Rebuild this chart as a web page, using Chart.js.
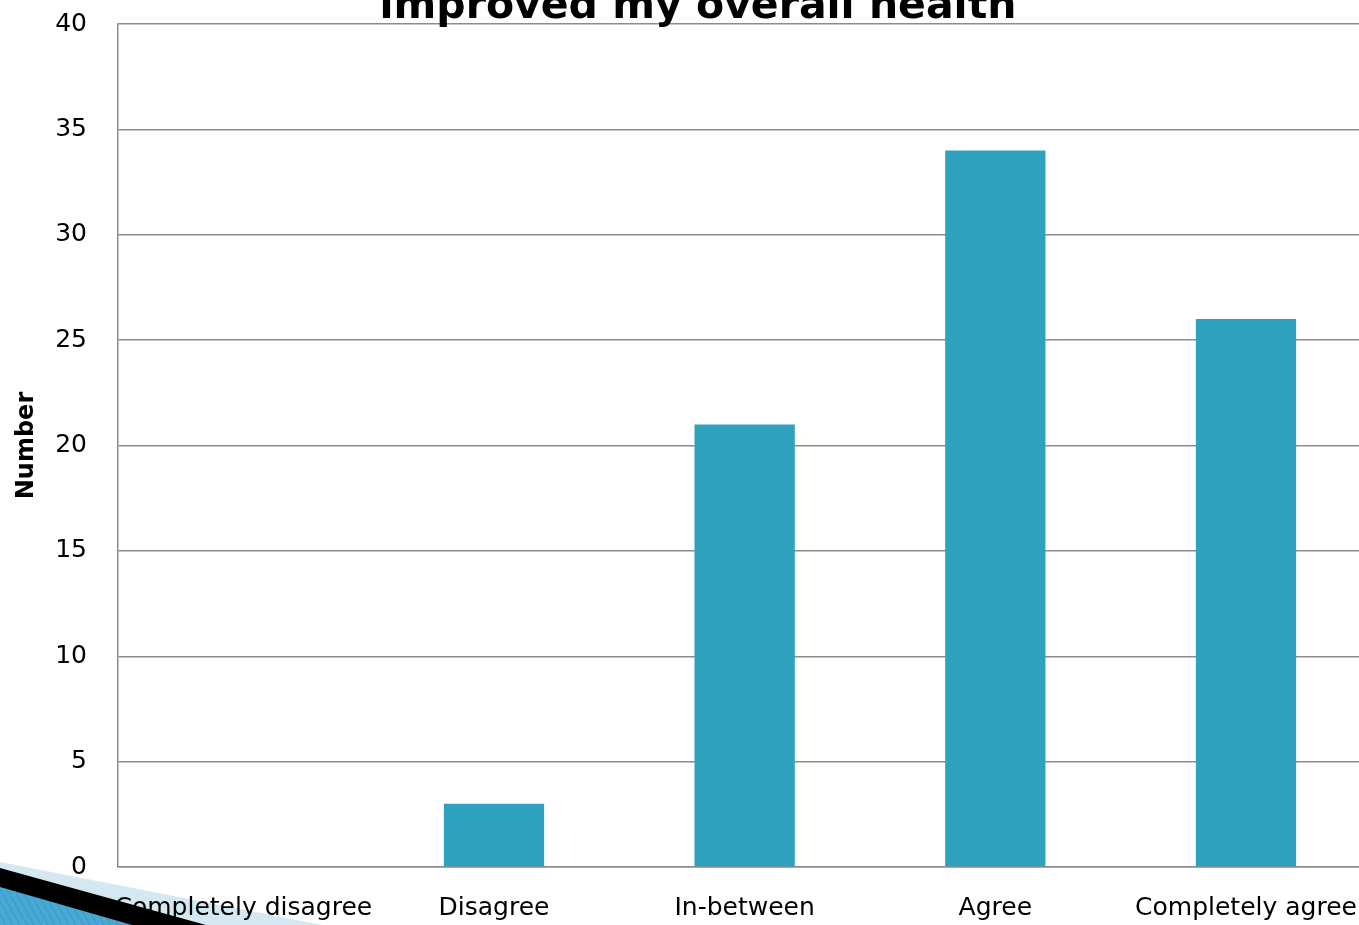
<!DOCTYPE html>
<html>
<head>
<meta charset="utf-8">
<script src="https://cdn.jsdelivr.net/npm/chart.js@4/dist/chart.umd.min.js"></script>
<style>
  html, body { margin: 0; padding: 0; background: #fff; overflow: hidden; }
  #wrap { width: 1359px; height: 925px; overflow: hidden; position: relative; }
  #chart { position: absolute; left: 0; top: 0; }
</style>
</head>
<body>
<div id="wrap"><canvas id="chart" width="1384" height="925"></canvas></div>
<script>
/* chart data */
const categories = ['Completely disagree', 'Disagree', 'In-between', 'Agree', 'Completely agree'];
const counts = [0, 3, 21, 34, 26];
const titleText = 'improved my overall health';
const yAxisTitle = 'Number';

const FONT = '"DejaVu Sans", Verdana, sans-serif';

/* light blue slide decoration behind the labels */
const slideBack = {
    id: 'slideBack',
    beforeDraw(chart) {
        const ctx = chart.ctx;
        ctx.save();
        ctx.fillStyle = '#d3e8f0';
        ctx.beginPath();
        ctx.moveTo(0, 862);
        ctx.lineTo(322, 925);
        ctx.lineTo(0, 925);
        ctx.closePath();
        ctx.fill();
        ctx.restore();
    }
};

/* black band and striped blue wedge over the labels, plus the clipped title */
const slideFront = {
    id: 'slideFront',
    afterDraw(chart) {
        const ctx = chart.ctx;
        ctx.save();
        ctx.fillStyle = '#000';
        ctx.beginPath();
        ctx.moveTo(0, 868);
        ctx.lineTo(206, 925);
        ctx.lineTo(0, 925);
        ctx.closePath();
        ctx.fill();

        ctx.beginPath();
        ctx.moveTo(0, 887);
        ctx.lineTo(132, 925);
        ctx.lineTo(0, 925);
        ctx.closePath();
        ctx.fillStyle = '#48aad4';
        ctx.fill();
        ctx.clip();
        ctx.strokeStyle = '#3b97c2';
        ctx.lineWidth = 1;
        for (let x = -40; x < 140; x += 7) {
            ctx.beginPath();
            ctx.moveTo(x, 880);
            ctx.lineTo(x + 25, 925);
            ctx.stroke();
        }
        ctx.restore();

        ctx.save();
        ctx.fillStyle = '#000';
        ctx.font = 'bold 41px ' + FONT;
        ctx.textAlign = 'center';
        ctx.textBaseline = 'alphabetic';
        ctx.fillText(titleText, 698, 18);
        ctx.restore();
    }
};

new Chart(document.getElementById('chart'), {
    type: 'bar',
    data: {
        labels: categories,
        datasets: [{
            data: counts,
            backgroundColor: '#2ea1be',
            borderWidth: 0,
            barPercentage: 0.4,
            categoryPercentage: 1.0
        }]
    },
    options: {
        responsive: false,
        animation: false,
        layout: { padding: { top: 24, right: 11, bottom: 0, left: 0 } },
        plugins: {
            legend: { display: false },
            title: { display: false },
            tooltip: { enabled: false }
        },
        scales: {
            x: {
                grid: { display: false, drawTicks: false },
                border: { display: true, color: '#8c8c8c', width: 1.5 },
                ticks: {
                    color: '#000',
                    font: { family: FONT, size: 25 },
                    padding: 26,
                    maxRotation: 0,
                    autoSkip: false
                },
                afterFit(scale) { scale.height = 58; }
            },
            y: {
                min: 0,
                max: 40,
                ticks: {
                    stepSize: 5,
                    color: '#000',
                    font: { family: FONT, size: 25 },
                    padding: 0
                },
                grid: {
                    color: '#8c8c8c',
                    lineWidth: 1.5,
                    drawTicks: true,
                    tickLength: 31,
                    tickColor: 'rgba(0,0,0,0)'
                },
                border: { display: true, color: '#8c8c8c', width: 1.5 },
                title: {
                    display: true,
                    text: yAxisTitle,
                    color: '#000',
                    font: { family: FONT, size: 24, weight: 'bold' },
                    padding: { top: 12, bottom: 0 }
                },
                afterFit(scale) { scale.width = 118; }
            }
        }
    },
    plugins: [slideBack, slideFront]
});
</script>
</body>
</html>
